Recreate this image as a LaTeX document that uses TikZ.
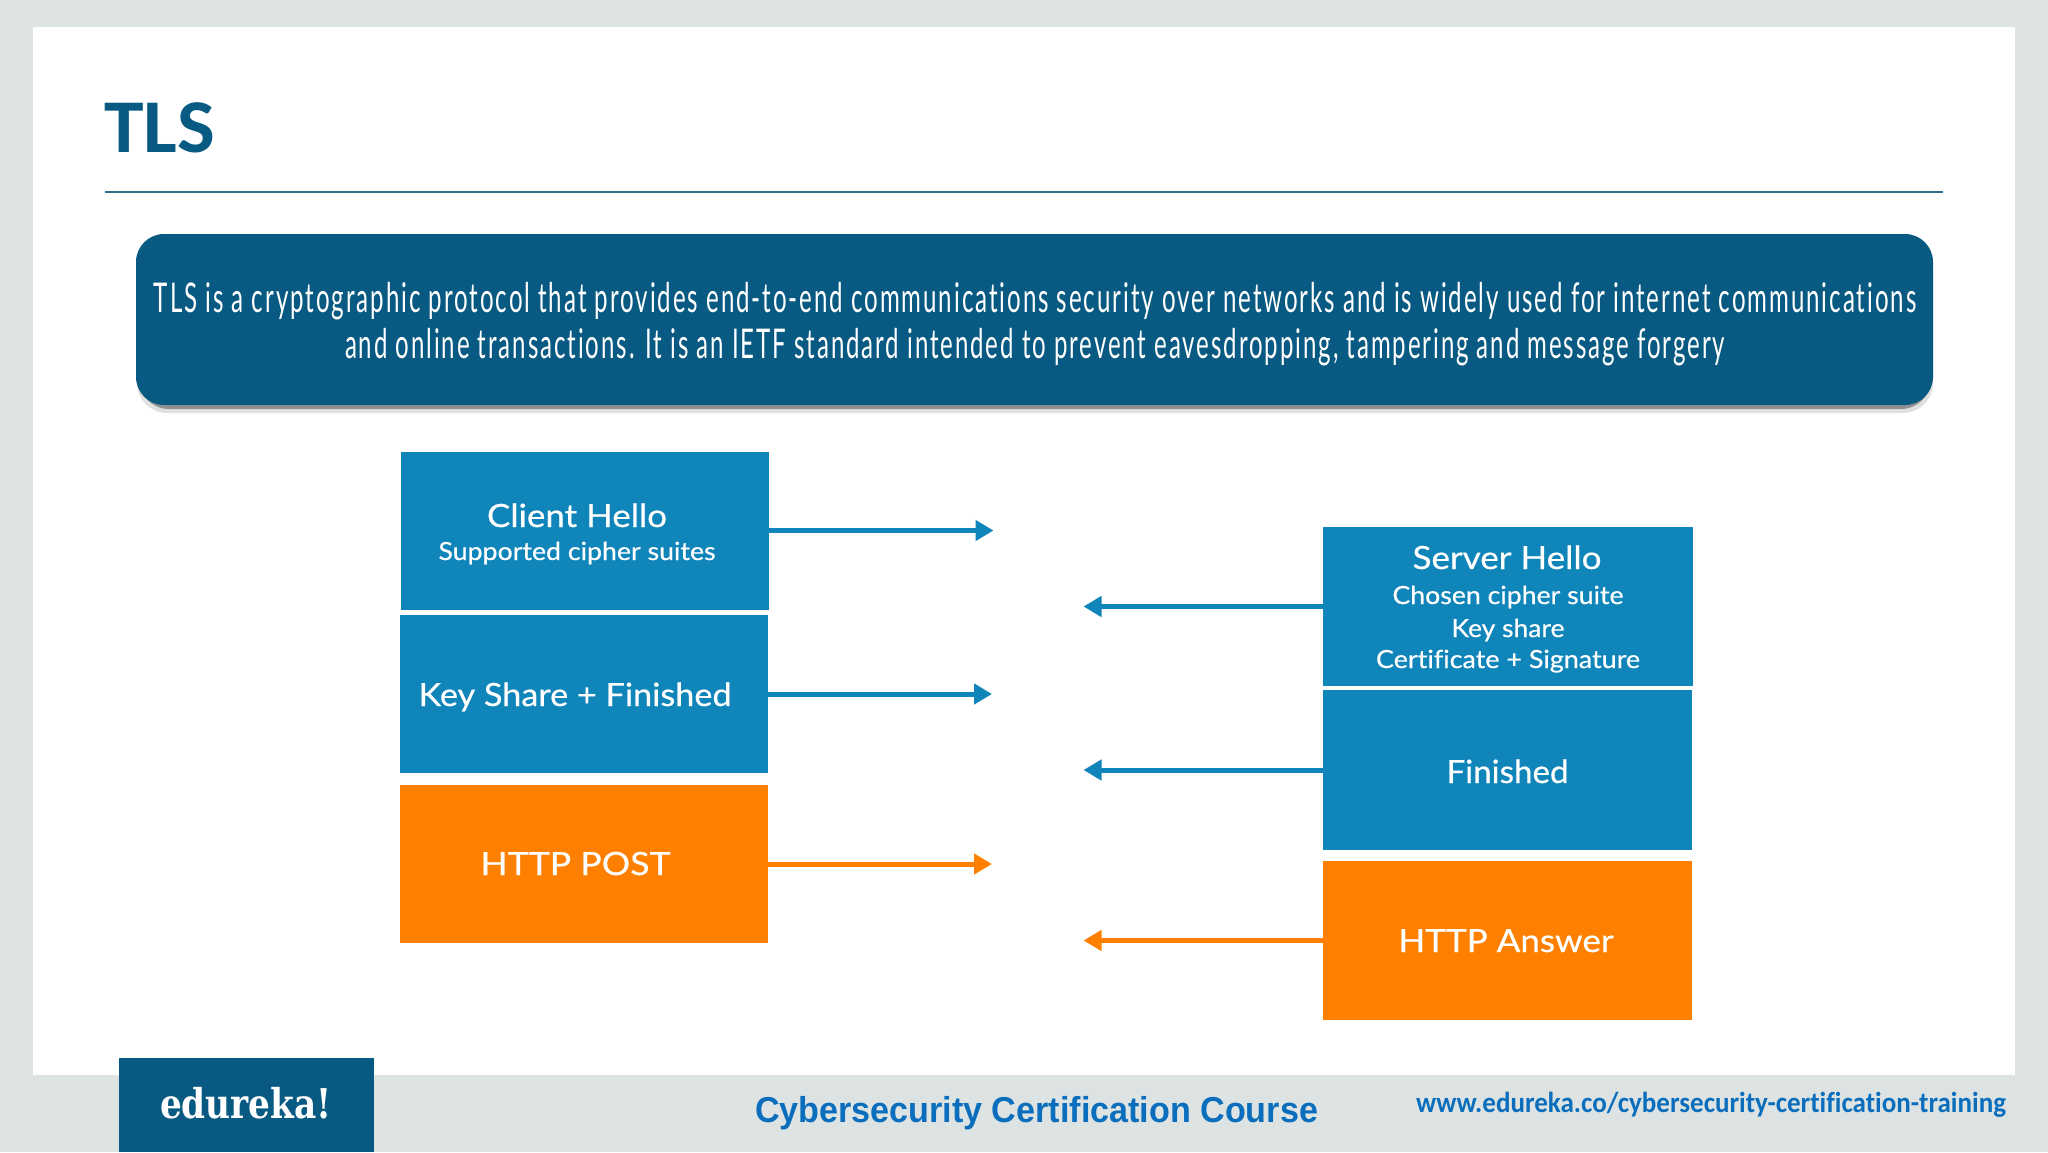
\documentclass[tikz,border=0pt]{standalone}
\usepackage{fontspec}
\usepackage{graphicx}
\setmainfont{Lato}
\newfontfamily\boxfont[FakeBold=0.5,Ligatures=NoCommon]{Lato}
\newfontfamily\capfont[Ligatures=NoCommon]{Carlito}
\newfontfamily\narrowfont[LetterSpace=8,Ligatures=NoCommon]{Lato}
\newfontfamily\footfont{Liberation Sans}
\newfontfamily\logofont{DejaVu Serif}
\usetikzlibrary{arrows.meta}
\definecolor{pagebg}{HTML}{DDE3E2}
\definecolor{navy}{HTML}{085A82}
\definecolor{rulec}{HTML}{2F7088}
\definecolor{boxblue}{HTML}{0F85BA}
\definecolor{boxorange}{HTML}{FF8000}
\definecolor{footblue}{HTML}{0A6EBD}
\newcommand{\fitw}[2]{\resizebox{#1pt}{\height}{#2}}
\newcommand{\fsz}[1]{\fontsize{#1}{#1}\selectfont}
\tikzset{
  x=1pt,y=-1pt,
  flow/.style={line width=5pt,-{Triangle[length=18pt,width=20pt]}},
  blueflow/.style={flow,draw=boxblue},
  orangeflow/.style={flow,draw=boxorange},
  block/.style={draw=none,inner sep=0pt,outer sep=0pt,minimum width=#1pt},
  bluebox/.style={fill=boxblue},
  orangebox/.style={fill=boxorange},
  lab/.style={anchor=base,inner sep=0pt,outer sep=0pt,text=white,font=\boxfont},
}
\begin{document}
\begin{tikzpicture}
\useasboundingbox (0,0) rectangle (2048,1152);
\fill[pagebg] (0,0) rectangle (2048,1152);
\fill[white] (33,27) rectangle (2015,1075);
% title
\node[lab,anchor=base west,text=navy] (title) at (104,152) {\capfont\bfseries\fsz{76}\fitw{111}{TLS}};
\coordinate (ruleL) at (104.5,192);
\coordinate (ruleR) at (1943,192);
\draw[rulec,line width=2pt] (ruleL) -- (ruleR);
% banner
\fill[black,opacity=.12,rounded corners=30pt] (137,240) rectangle (1933,413);
\fill[black,opacity=.35,rounded corners=30pt] (139,238) rectangle (1931,409);
\node[fill=navy,rounded corners=28pt,minimum width=1797pt,minimum height=171pt,inner sep=0pt,outer sep=0pt] (banner) at (1034.5,319.5) {};
\node[lab] (bannerA) at (1035,312) {\narrowfont\fsz{41}\fitw{1762}{TLS is a cryptographic protocol that provides end-to-end communications security over networks and is widely used for internet communications}};
\node[lab] (bannerB) at (1035,358) {\narrowfont\fsz{41}\fitw{1380}{and online transactions. It is an IETF standard intended to prevent eavesdropping, tampering and message forgery}};
% left column
\node[block=368,bluebox,minimum height=158pt] (c1) at (585,530.5) {};
\node[block=368,bluebox,minimum height=158pt] (c2) at (583.8,694) {};
\node[block=368,orangebox,minimum height=158pt] (c3) at (583.8,864) {};
% right column
\node[block=370,bluebox,minimum height=158.3pt] (s1) at (1508,606.5) {};
\node[block=368.5,bluebox,minimum height=160pt] (s2) at (1507.3,770) {};
\node[block=368.5,orangebox,minimum height=158.3pt] (s3) at (1507.3,940.5) {};
% labels
\node[lab] (c1a) at (577,527) {\fsz{32}\fitw{180}{Client Hello}};
\node[lab] (c1b) at (577,560) {\fsz{25}\fitw{277}{Supported cipher suites}};
\node[lab] (c2a) at (575,706) {\fsz{32}\fitw{313}{Key Share + Finished}};
\node[lab] (c3a) at (575.5,875) {\fsz{32}\fitw{190}{HTTP POST}};
\node[lab] (s1a) at (1507,569) {\fsz{32}\fitw{189}{Server Hello}};
\node[lab] (s1b) at (1508,604) {\fsz{25}\fitw{231}{Chosen cipher suite}};
\node[lab] (s1c) at (1508,637) {\fsz{25}\fitw{113}{Key share}};
\node[lab] (s1d) at (1508,668) {\fsz{25}\fitw{264}{Certificate + Signature}};
\node[lab] (s2a) at (1507.5,783) {\fsz{32}\fitw{122}{Finished}};
\node[lab] (s3a) at (1506,952) {\fsz{32}\fitw{215}{HTTP Answer}};
% arrows
\coordinate (c1t) at (993.5,530.5);
\coordinate (c2t) at (992,694);
\coordinate (c3t) at (992,864);
\coordinate (s1t) at (1083.5,606.5);
\coordinate (s2t) at (1083.5,770);
\coordinate (s3t) at (1083.5,940.5);
\draw[blueflow] (c1.east) -- (c1t);
\draw[blueflow] (c2.east) -- (c2t);
\draw[orangeflow] (c3.east) -- (c3t);
\draw[blueflow] (s1.west) -- (s1t);
\draw[blueflow] (s2.west) -- (s2t);
\draw[orangeflow] (s3.west) -- (s3t);
% footer
\fill[navy] (119,1058) rectangle (374,1152);
\node[lab,anchor=base west] (logo) at (160,1118) {\logofont\bfseries\fsz{41}\fitw{172}{edureka!}};
\node[lab,anchor=base west,text=footblue] (course) at (755,1122) {\footfont\bfseries\fsz{36}\fitw{563}{Cybersecurity Certification Course}};
\node[lab,anchor=base west,text=footblue] (url) at (1416,1112) {\capfont\bfseries\fsz{29}\fitw{590}{www.edureka.co/cybersecurity-certification-training}};
\end{tikzpicture}
\end{document}
